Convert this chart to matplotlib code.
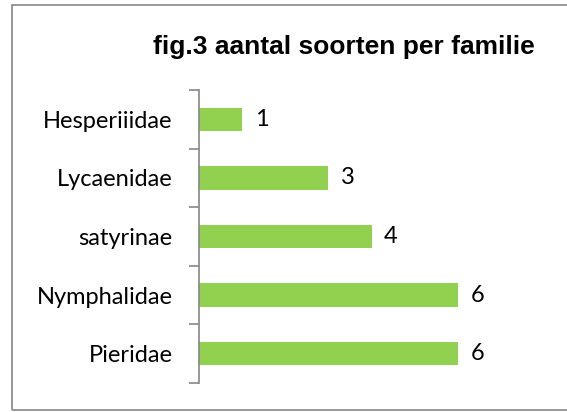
import matplotlib.pyplot as plt
from matplotlib.patches import Rectangle
import numpy as np

families = ["Pieridae", "Nymphalidae", "satyrinae", "Lycaenidae", "Hesperiiidae"]
counts = [6, 6, 4, 3, 1]

W, H = 567, 412
fig = plt.figure(figsize=(W / 100, H / 100), dpi=100)
ax = fig.add_axes([199 / W, 1 - 383 / H, (501 - 199) / W, (383 - 90) / H])

y = np.arange(len(families))
ax.barh(y, counts, height=0.4, color="#92D050")
ax.set_xlim(0, 7)
ax.set_ylim(-0.5, len(families) - 0.5)

# category labels sit between the boundary ticks
ax.set_yticks(np.arange(-0.5, len(families), 1))
ax.set_yticklabels([])
ax.set_yticks(y, minor=True)
ax.set_yticklabels(families, minor=True, fontsize=17, family="Lato", color="#000000")
ax.tick_params(axis="y", which="major", length=7, color="#868686", width=1.2)
ax.tick_params(axis="y", which="minor", length=0, pad=19)
ax.set_xticks([])

for s in ["top", "right", "bottom"]:
    ax.spines[s].set_visible(False)
ax.spines["left"].set_color("#868686")
ax.spines["left"].set_linewidth(1.2)

for yi, c in zip(y, counts):
    ax.annotate(str(c), (c, yi), xytext=(9, 0), textcoords="offset points",
                va="center", ha="left", fontsize=17, family="Lato")

fig.text(344 / W, 1 - 47 / H, "fig.3 aantal soorten per familie", ha="center", va="center",
         fontsize=19, fontweight="bold", family="Liberation Sans")

fig.patches.append(Rectangle((12 / W, 1 - 410 / H), 1, (410 - 5) / H, transform=fig.transFigure,
                             fill=False, edgecolor="#868686", linewidth=1.2))

fig.savefig("out.png", dpi=100)
